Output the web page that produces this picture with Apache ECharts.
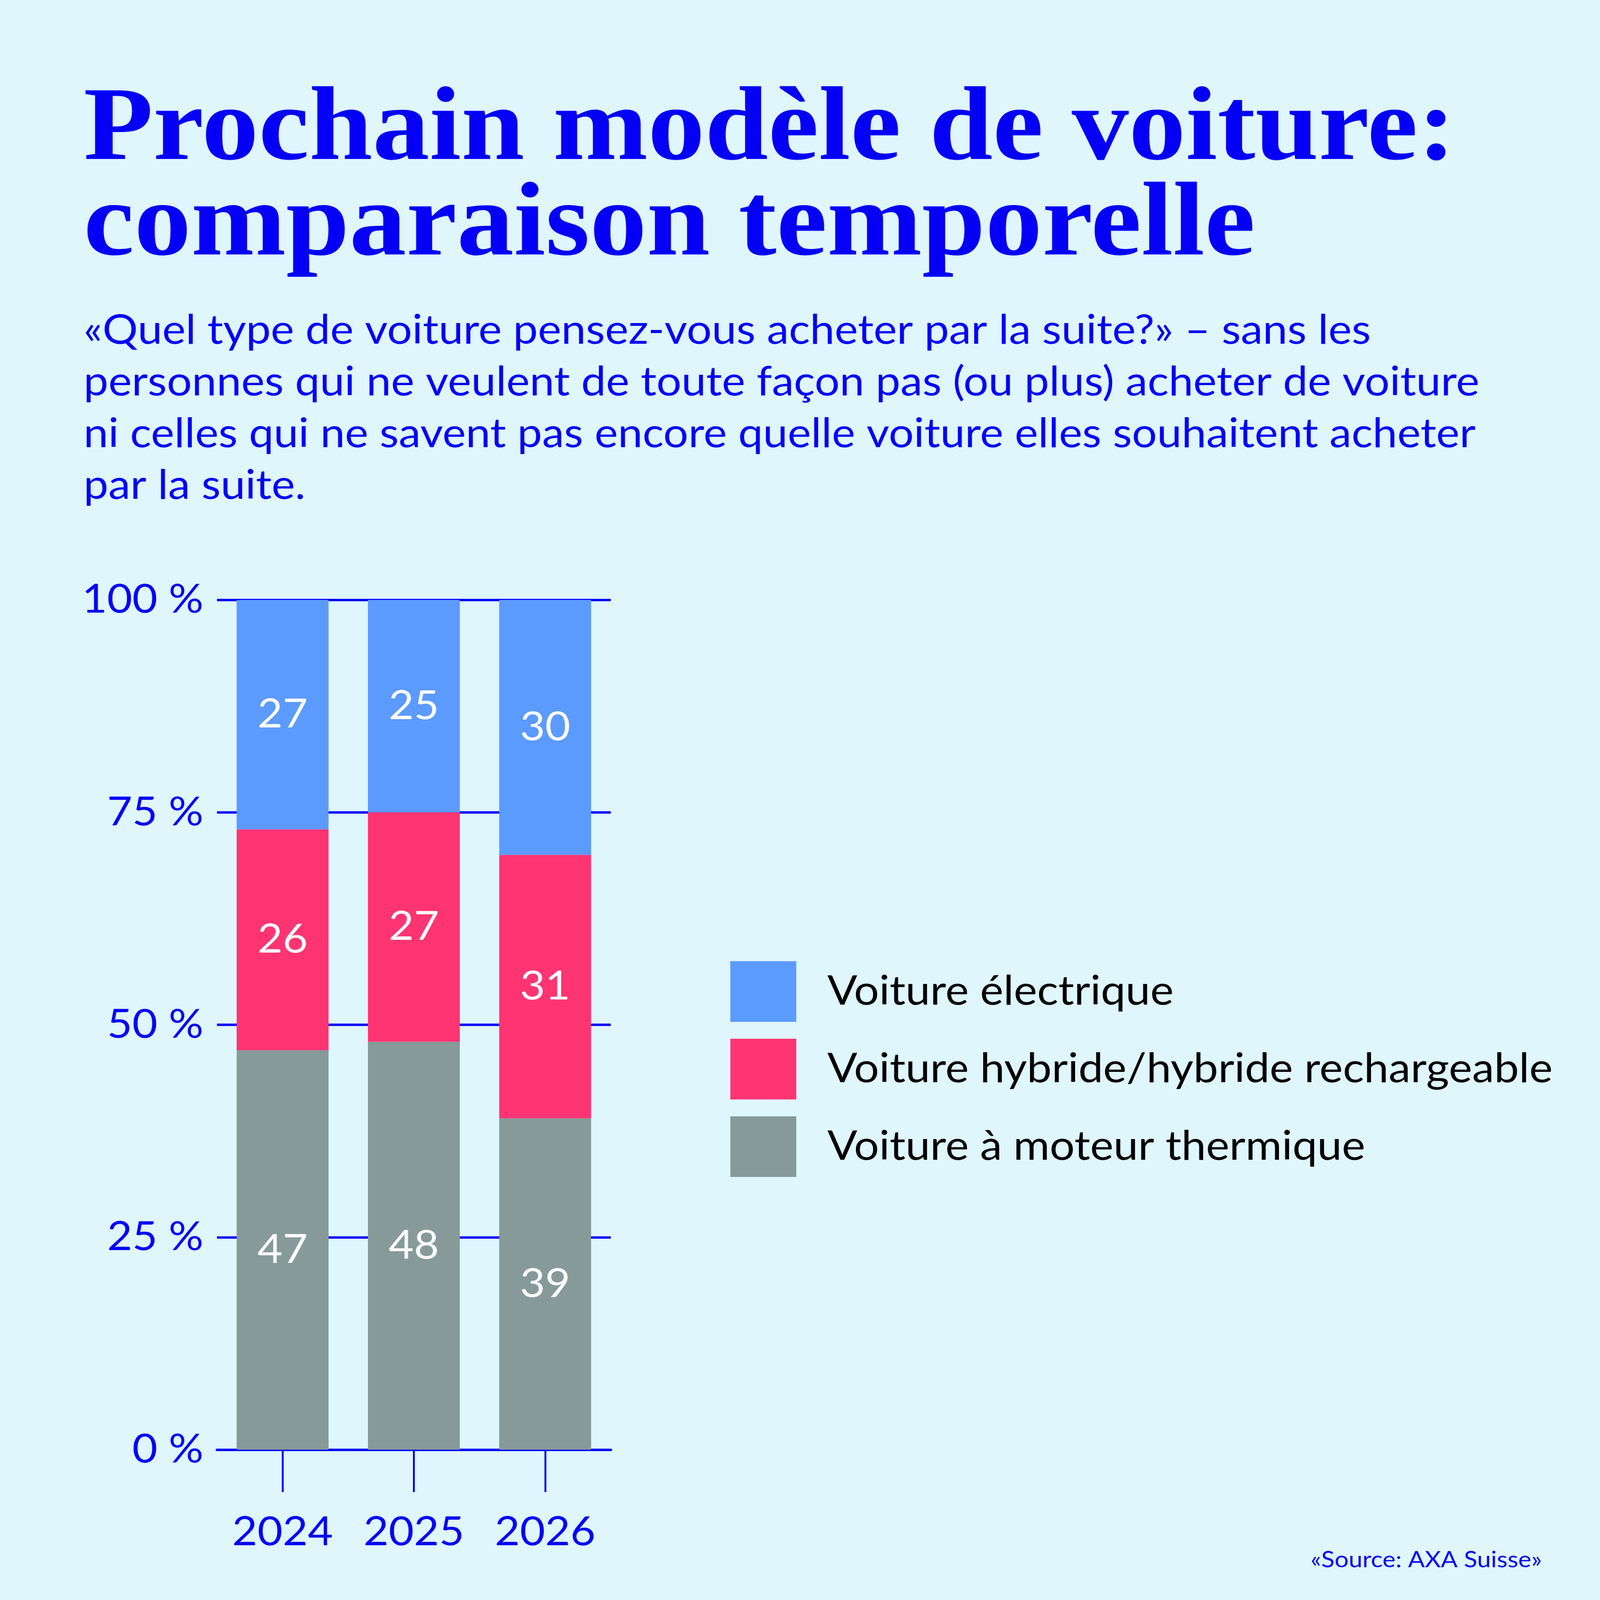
<!DOCTYPE html>
<html>
<head>
    <meta charset="utf-8">
    <script src="https://cdn.jsdelivr.net/npm/echarts@6/dist/echarts.min.js"></script>
    <style type="text/css">
        html, body { margin: 0; padding: 0; width: 100%; height: 100%; overflow: hidden; background: #dff6fd; }
        #chart { width: 4270px; height: 4641px; transform-origin: 0 0; }
    </style>
</head>
<body>
<div id="chart"></div>
<script type="text/javascript">
    // données (en %)
    var years = ['2024', '2025', '2026'];
    var thermique = [47, 48, 39];
    var hybride = [26, 27, 31];
    var electrique = [27, 25, 30];
    var yTicks = [0, 25, 50, 75, 100];

    var seriesNames = ['Voiture électrique', 'Voiture hybride/hybride rechargeable', 'Voiture à moteur thermique'];

    var blue = '#0500f5';
    var sans = 'Lato';

    // la fenêtre réelle peut être plus petite que 4270x4641 : on met le dessin à l'échelle
    var el = document.getElementById('chart');
    var sx = window.innerWidth / 4270, sy = window.innerHeight / 4641;
    el.style.transform = 'scale(' + sx + ',' + sy + ')';

    var barLabel = {
        show: true,
        position: 'inside',
        color: '#ffffff',
        fontFamily: sans,
        fontSize: 116
    };

    var option = {
        backgroundColor: '#dff6fd',
        animation: false,
        title: [
            {
                text: 'Prochain modèle de voiture:\ncomparaison temporelle',
                left: 223,
                top: 244,
                padding: 0,
                textStyle: {
                    fontFamily: 'Liberation Serif',
                    fontWeight: 'bold',
                    fontSize: 304,
                    lineHeight: 277,
                    color: blue
                }
            },
            {
                text: '«Quel type de voiture pensez-vous acheter par la suite?» – sans les\n' +
                    'personnes qui ne veulent de toute façon pas (ou plus) acheter de voiture\n' +
                    'ni celles qui ne savent pas encore quelle voiture elles souhaitent acheter\n' +
                    'par la suite.',
                left: 223,
                top: 884,
                padding: 0,
                textStyle: {
                    fontFamily: sans,
                    fontWeight: 'normal',
                    fontSize: 118,
                    lineHeight: 150,
                    color: blue
                }
            },
            {
                text: '«Source: AXA Suisse»',
                right: 155,
                top: 4492,
                padding: 0,
                textStyle: {
                    fontFamily: sans,
                    fontWeight: 'normal',
                    fontSize: 66,
                    lineHeight: 66,
                    color: blue
                }
            }
        ],
        legend: {
            data: seriesNames,
            orient: 'vertical',
            left: 1949,
            top: 2788,
            padding: 0,
            itemWidth: 176,
            itemHeight: 176,
            itemGap: 49,
            icon: 'rect',
            selectedMode: false,
            textStyle: {
                fontFamily: sans,
                fontSize: 118,
                color: '#000000',
                padding: [0, 0, 0, 78]
            }
        },
        grid: {
            left: 579,
            right: 2640,
            top: 1740,
            bottom: 436,
            containLabel: false
        },
        xAxis: {
            type: 'category',
            data: years,
            axisLine: { lineStyle: { color: blue, width: 7 } },
            axisTick: { show: true, alignWithLabel: true, length: 123, lineStyle: { color: blue, width: 5 } },
            axisLabel: { interval: 0, color: blue, fontFamily: sans, fontSize: 116, lineHeight: 116, margin: 182 }
        },
        yAxis: {
            type: 'value',
            min: yTicks[0],
            max: yTicks[yTicks.length - 1],
            interval: yTicks[1] - yTicks[0],
            axisLine: { show: false },
            axisTick: { show: false },
            splitLine: { lineStyle: { color: blue, width: 7 } },
            axisLabel: {
                color: blue,
                fontFamily: sans,
                fontSize: 116,
                margin: 36,
                formatter: function (v) { return v + ' %'; }
            }
        },
        series: [
            {
                name: seriesNames[2],
                type: 'bar',
                stack: 'total',
                barCategoryGap: '30%',
                data: thermique,
                itemStyle: { color: '#869a9a' },
                label: barLabel
            },
            {
                name: seriesNames[1],
                type: 'bar',
                stack: 'total',
                data: hybride,
                itemStyle: { color: '#ff3472' },
                label: barLabel
            },
            {
                name: seriesNames[0],
                type: 'bar',
                stack: 'total',
                data: electrique,
                itemStyle: { color: '#5b9aff' },
                label: barLabel
            }
        ]
    };

    var myChart = echarts.init(el);
    myChart.setOption(option);
</script>
</body>
</html>
